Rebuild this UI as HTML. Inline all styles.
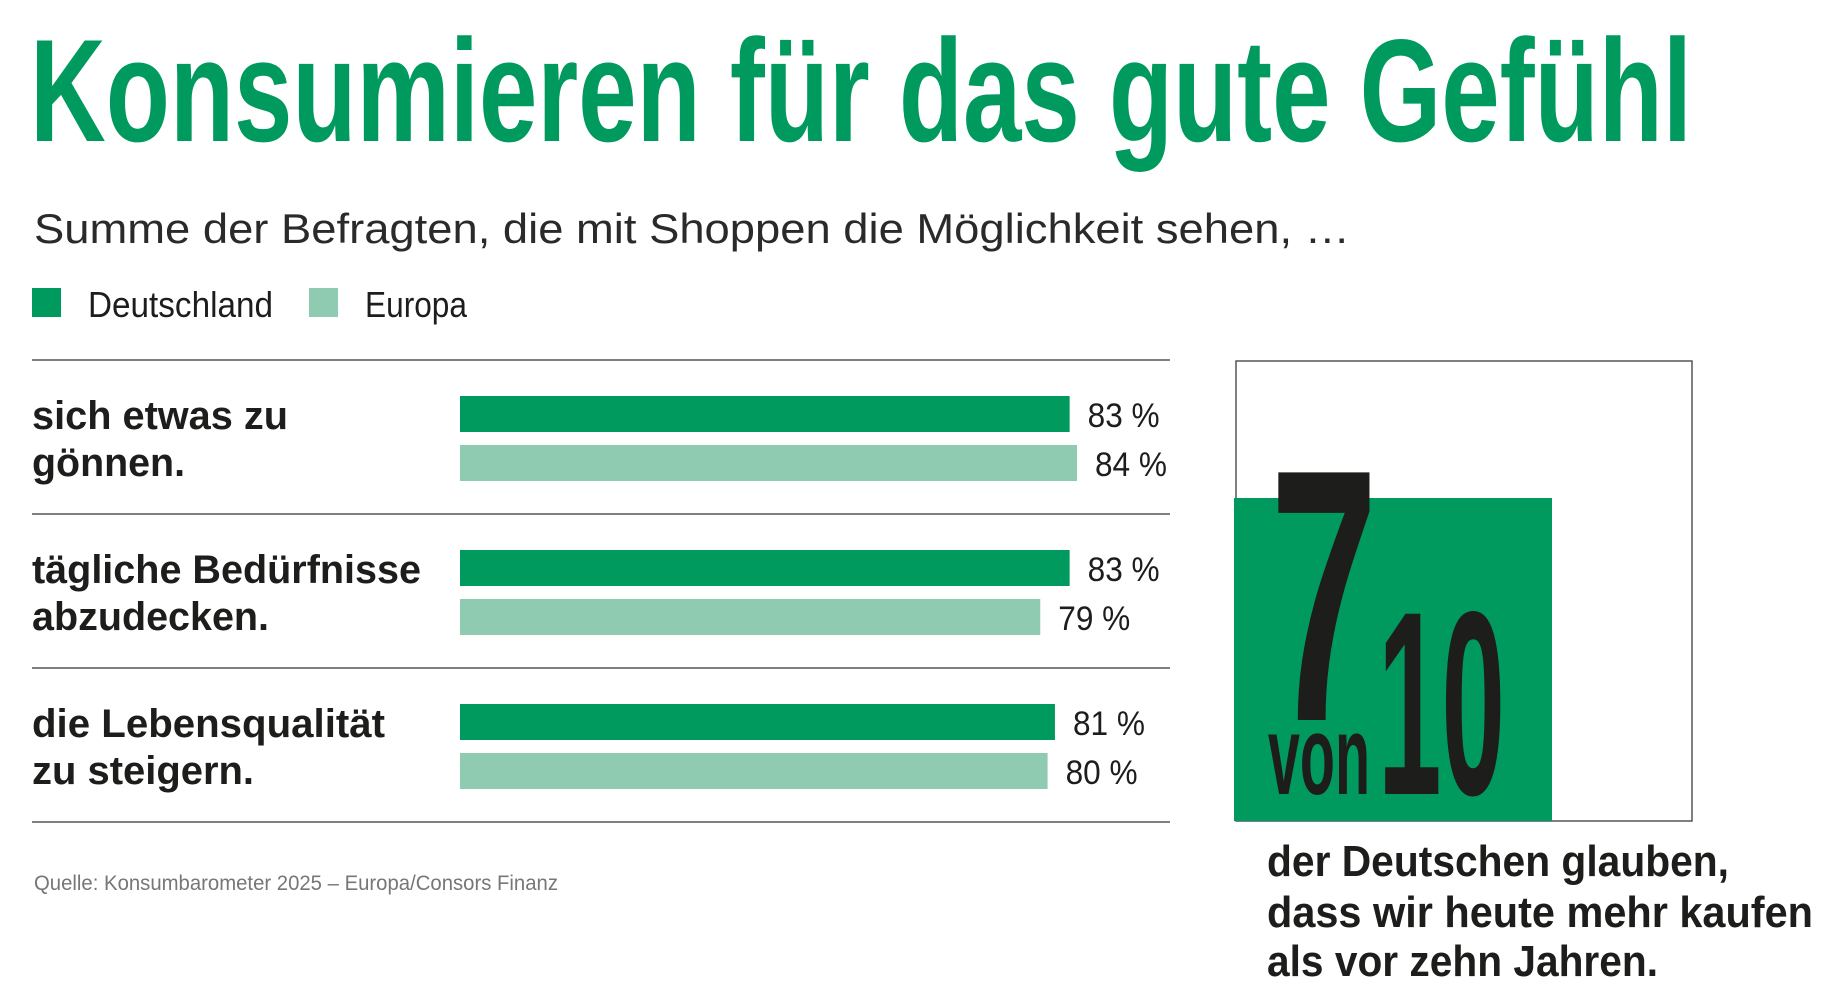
<!DOCTYPE html>
<html><head><meta charset="utf-8"><style>
html,body{margin:0;padding:0;background:#fff;}
svg{display:block;font-family:"Liberation Sans",sans-serif;}
</style></head><body>
<svg width="1834" height="1000" viewBox="0 0 1834 1000">
<text x="30" y="141" font-size="146" font-weight="bold" fill="#009a5e" textLength="1662" lengthAdjust="spacingAndGlyphs">Konsumieren für das gute Gefühl</text>
<text x="34" y="243" font-size="42" fill="#2a2a2a" textLength="1316" lengthAdjust="spacingAndGlyphs">Summe der Befragten, die mit Shoppen die Möglichkeit sehen, …</text>
<rect x="32" y="288" width="29" height="29" fill="#009a5e"/>
<text x="88" y="317" font-size="36" fill="#1d1d1b" textLength="185" lengthAdjust="spacingAndGlyphs">Deutschland</text>
<rect x="309" y="288" width="29" height="29" fill="#8fcbb0"/>
<text x="365" y="317" font-size="36" fill="#1d1d1b" textLength="102" lengthAdjust="spacingAndGlyphs">Europa</text>
<g id="chart"></g>
<text x="34" y="890" font-size="21" fill="#777" textLength="524" lengthAdjust="spacingAndGlyphs">Quelle: Konsumbarometer 2025 – Europa/Consors Finanz</text>
<rect x="1236" y="361" width="456" height="460" fill="none" stroke="#555" stroke-width="1.5"/>
<rect x="1234" y="498" width="318" height="323" fill="#009a5e"/>
<text x="1270" y="720" font-size="360" font-weight="bold" fill="#1d1d1b" textLength="108" lengthAdjust="spacingAndGlyphs">7</text>
<text x="1378" y="794" font-size="262" font-weight="bold" fill="#1d1d1b" textLength="127" lengthAdjust="spacingAndGlyphs">10</text>
<text x="1268" y="794" font-size="112" font-weight="bold" fill="#1d1d1b" textLength="102" lengthAdjust="spacingAndGlyphs">von</text>
<text x="1267" y="876" font-size="44" font-weight="bold" fill="#1d1d1b" textLength="462" lengthAdjust="spacingAndGlyphs">der Deutschen glauben,</text>
<text x="1267" y="927" font-size="44" font-weight="bold" fill="#1d1d1b" textLength="546" lengthAdjust="spacingAndGlyphs">dass wir heute mehr kaufen</text>
<text x="1267" y="976" font-size="44" font-weight="bold" fill="#1d1d1b" textLength="391" lengthAdjust="spacingAndGlyphs">als vor zehn Jahren.</text>
</svg>
<script>
const categoriesLine1 = ["sich etwas zu","tägliche Bedürfnisse","die Lebensqualität"];
const categoriesLine2 = ["gönnen.","abzudecken.","zu steigern."];
const deutschland = [83, 83, 81];
const europa = [84, 79, 80];
const NS="http://www.w3.org/2000/svg";
const g=document.getElementById('chart');
const x0=460, perPct=7.345;
const xw=v=>v*perPct;
const rowY=i=>396+i*154;
const l1w=[256,389,353], l2w=[153,237,222];
function mk(t,a){const e=document.createElementNS(NS,t);for(const k in a)e.setAttribute(k,a[k]);g.appendChild(e);return e;}
for(let i=0;i<=categoriesLine1.length;i++){
  const ln=mk('line',{x1:32,x2:1170,y1:360+i*154,y2:360+i*154,stroke:'#555','stroke-width':1.5});
  
  
}
categoriesLine1.forEach((c,i)=>{
  const y=rowY(i);
  const t1=mk('text',{x:32,y:y+33,'font-size':40,'font-weight':'bold',fill:'#1d1d1b',textLength:l1w[i],lengthAdjust:'spacingAndGlyphs'});
  t1.textContent=c;
  
  
  const t2=mk('text',{x:32,y:y+80,'font-size':40,'font-weight':'bold',fill:'#1d1d1b',textLength:l2w[i],lengthAdjust:'spacingAndGlyphs'});
  t2.textContent=categoriesLine2[i];
  
  
  [[deutschland[i],'#009a5e',0,'bar-deutschland'],[europa[i],'#8fcbb0',49,'bar-europa']].forEach(([v,col,dy,nm])=>{
    const r=mk('rect',{x:x0,y:y+dy,width:xw(v),height:36,fill:col});
    
    
    const vt=mk('text',{x:x0+xw(v)+18,y:y+dy+31,'font-size':34,fill:'#1d1d1b',textLength:72,lengthAdjust:'spacingAndGlyphs'});
    vt.textContent=v+' %';
    
    
  });
});
</script>
</body></html>
